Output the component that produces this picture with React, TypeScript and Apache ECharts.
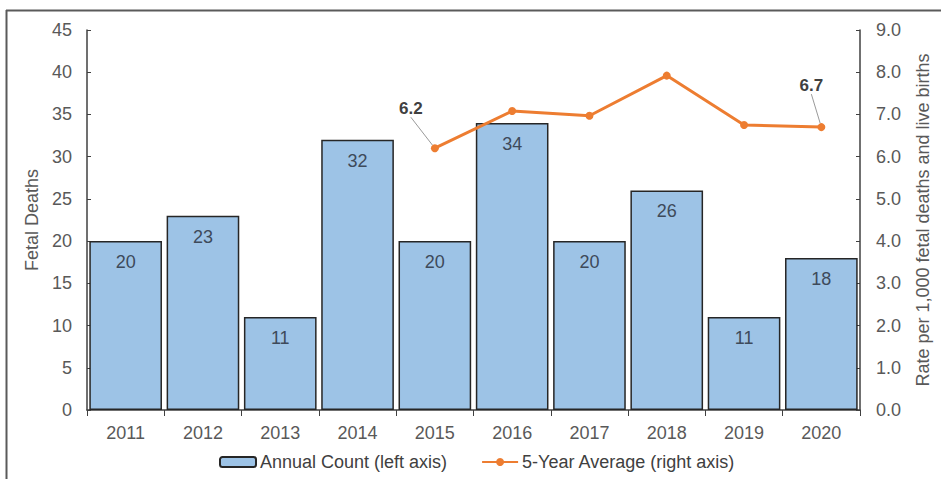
import React, { useEffect, useRef } from "react";
import * as echarts from "echarts";

const years = ["2011", "2012", "2013", "2014", "2015", "2016", "2017", "2018", "2019", "2020"];
const annualCount = [20, 23, 11, 32, 20, 34, 20, 26, 11, 18];
const fiveYearAvg: (number | string)[] = ["-", "-", "-", "-", 6.2, 7.08, 6.97, 7.92, 6.75, 6.7];
const labeledIdx = [4, 9];
const leftTicks = { min: 0, max: 45, interval: 5 };
const rightTicks = { min: 0, max: 9, interval: 1 };

const FONT = "Liberation Sans, Arial, sans-serif";

export default function App() {
  const ref = useRef<HTMLDivElement>(null);
  useEffect(() => {
    if (!ref.current) return;
    const chart = echarts.init(ref.current, null, { renderer: "svg" });
    const lineData = fiveYearAvg.map((v, i) =>
      labeledIdx.includes(i) ? { value: v, label: { show: true } } : v
    );
    chart.setOption({
      animation: false,
      backgroundColor: "#ffffff",
      textStyle: { fontFamily: FONT },
      grid: { left: 87, right: 81, top: 30, bottom: 69 },
      legend: {
        top: 448,
        left: 214,
        itemWidth: 36,
        itemHeight: 10,
        itemGap: 34,
        textStyle: { color: "#404040", fontSize: 18, fontFamily: FONT, padding: [0, 0, 0, -1] },
        data: ["Annual Count (left axis)", "5-Year Average (right axis)"],
      },
      graphic: [
        { type: "line", shape: { x1: 6, y1: 10.5, x2: 941, y2: 10.5 }, style: { stroke: "#5a5a5a", lineWidth: 2 } },
        { type: "line", shape: { x1: 6.5, y1: 10, x2: 6.5, y2: 479 }, style: { stroke: "#5a5a5a", lineWidth: 2 } },
      ],
      xAxis: {
        type: "category",
        data: years,
        axisLine: { lineStyle: { color: "#404040", width: 1.5 } },
        axisTick: { show: true, alignWithLabel: false, length: 6, lineStyle: { color: "#404040" } },
        axisLabel: { color: "#595959", fontSize: 18, margin: 14, fontFamily: FONT },
      },
      yAxis: [
        {
          type: "value",
          ...leftTicks,
          name: "Fetal Deaths",
          nameLocation: "middle",
          nameGap: 42,
          nameTextStyle: { color: "#595959", fontSize: 18, fontFamily: FONT },
          axisLine: { show: true, lineStyle: { color: "#404040", width: 1.5 } },
          axisTick: { show: true, inside: true, length: 4, lineStyle: { color: "#404040" } },
          axisLabel: { color: "#595959", fontSize: 18, margin: 15, fontFamily: FONT },
          splitLine: { show: false },
        },
        {
          type: "value",
          ...rightTicks,
          position: "right",
          name: "Rate per 1,000 fetal deaths and live births",
          nameLocation: "middle",
          nameGap: 54,
          nameTextStyle: { color: "#595959", fontSize: 18, fontFamily: FONT },
          axisLine: { show: true, lineStyle: { color: "#404040", width: 1.5 } },
          axisTick: { show: true, inside: true, length: 4, lineStyle: { color: "#404040" } },
          axisLabel: { color: "#595959", fontSize: 18, margin: 16, fontFamily: FONT, formatter: (v: number) => v.toFixed(1) },
          splitLine: { show: false },
        },
      ],
      series: [
        {
          name: "Annual Count (left axis)",
          type: "bar",
          data: annualCount,
          barCategoryGap: "6%",
          itemStyle: { color: "#9DC3E6", borderColor: "#262626", borderWidth: 1.5 },
          label: {
            show: true,
            position: "insideTop",
            distance: 12,
            color: "#3e4a5a",
            fontSize: 18,
            fontFamily: FONT,
          },
        },
        {
          name: "5-Year Average (right axis)",
          type: "line",
          yAxisIndex: 1,
          data: lineData,
          color: "#ED7D31",
          lineStyle: { color: "#ED7D31", width: 3 },
          itemStyle: { color: "#ED7D31" },
          symbol: "circle",
          symbolSize: 8,
          label: {
            show: false,
            position: "top",
            color: "#404040",
            fontWeight: "bold",
            fontSize: 17,
            fontFamily: FONT,
            formatter: (p: any) => Number(p.value).toFixed(1),
          },
          labelLine: { show: true, lineStyle: { color: "#9a9a9a", width: 1 } },
          labelLayout: (p: any) => {
            if (p.dataIndex === 4) return { dx: -24, dy: -22 };
            if (p.dataIndex === 9) return { dx: -10, dy: -24 };
            return {};
          },
        },
      ],
    });
    return () => chart.dispose();
  }, []);
  return <div ref={ref} style={{ position: "fixed", left: 0, top: 0, width: 941, height: 479 }} />;
}
